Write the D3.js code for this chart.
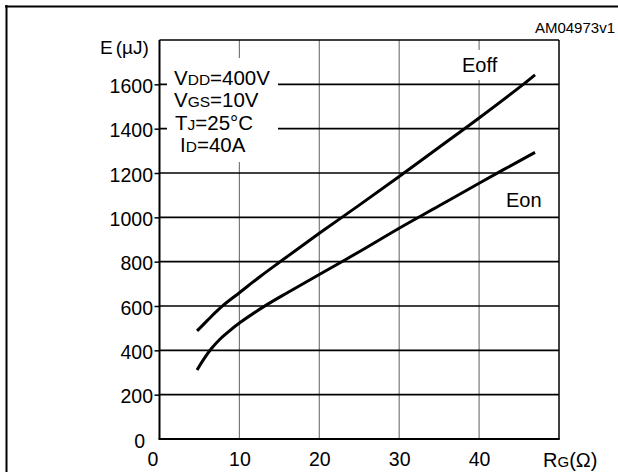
<!DOCTYPE html>
<html>
<head>
<meta charset="utf-8">
<script src="https://cdn.jsdelivr.net/npm/d3@7"></script>
<style>
  body { margin: 0; background: #fff; }
  text { font-family: "Liberation Sans", Arial, sans-serif; fill: #000; }
</style>
</head>
<body>
<div id="g1"></div>
<script>
// data
var rgTicks = [0, 10, 20, 30, 40];
var eTicks = [0, 200, 400, 600, 800, 1000, 1200, 1400, 1600];
var gridX = [10, 20, 30, 40];
var gridY = [200, 400, 600, 800, 1000, 1200, 1400, 1600];

var eoffRg = [4.7, 6, 7, 8, 10, 12.6, 15, 20, 25, 30, 35, 40, 45, 47];
var eoffE  = [488, 535, 571, 604, 660, 733, 797, 928, 1055, 1184, 1316, 1448, 1585, 1643];
var eonRg  = [4.7, 5.5, 6.5, 7.5, 8.5, 10, 13, 16, 20, 25, 30, 35, 40, 47];
var eonE   = [311, 358, 408, 448, 480, 523, 596, 660, 742, 845, 951, 1052, 1154, 1293];

var w = 618, h = 472;
var margin = {top: 40, left: 159.5, right: 59, bottom: 33};
var width = w - margin.left - margin.right,
    height = h - margin.top - margin.bottom;

var svg = d3.select("#g1").append("svg").attr("width", w).attr("height", h);

// outer frame (top and left only)
svg.append("line").attr("x1", 5).attr("y1", 6.5).attr("x2", w).attr("y2", 6.5)
   .style("stroke", "#000").style("stroke-width", 2);
svg.append("line").attr("x1", 6.5).attr("y1", 5).attr("x2", 6.5).attr("y2", h)
   .style("stroke", "#000").style("stroke-width", 2);

svg.append("text").attr("x", 615).attr("y", 33).attr("text-anchor", "end")
   .style("font-size", "15px").text("AM04973v1");

var g = svg.append("g").attr("transform", "translate(" + margin.left + "," + margin.top + ")");

var x = d3.scaleLinear().domain([0, 50]).range([0, width]);
var y = d3.scaleLinear().domain([0, 1800]).range([height, 0]);

// grid
g.selectAll(".vgrid").data(gridX).enter().append("line")
  .attr("x1", function(d){ return x(d); }).attr("x2", function(d){ return x(d); })
  .attr("y1", 0).attr("y2", height)
  .style("stroke", "#7a7a7a").style("stroke-width", 1.2);
g.selectAll(".hgrid").data(gridY).enter().append("line")
  .attr("x1", 0).attr("x2", width)
  .attr("y1", function(d){ return y(d); }).attr("y2", function(d){ return y(d); })
  .style("stroke", "#000").style("stroke-width", 1.7);

// white boxes behind the labels
svg.append("rect").attr("x", 167).attr("y", 58).attr("width", 111).attr("height", 104).style("fill", "#fff");
svg.append("rect").attr("x", 455).attr("y", 50).attr("width", 50).attr("height", 30).style("fill", "#fff");

// axes
var yAxis = d3.axisLeft(y).tickValues(eTicks).tickFormat(d3.format("d")).tickSize(5).tickSizeOuter(0);
var xAxis = d3.axisBottom(x).tickValues(rgTicks).tickFormat(d3.format("d")).tickSize(0).tickSizeOuter(0);

var ya = g.append("g").call(yAxis);
ya.select(".domain").remove();
ya.selectAll("text").style("font-size", "19.5px").attr("x", -6.5).attr("dy", "0.42em")
  .attr("dx", function(d){ return d === 0 ? -8 : 0; });
ya.selectAll("line").style("stroke-width", 1.5)
  .style("display", function(d){ return d === 0 ? "none" : null; });

var xa = g.append("g").attr("transform", "translate(0," + height + ")").call(xAxis);
xa.select(".domain").remove();
xa.selectAll("text").style("font-size", "19.5px").attr("y", 13.5)
  .attr("dx", function(d){ return d === 0 ? -7 : 0; });

// plot border
g.append("line").attr("x1", 0).attr("x2", width).attr("y1", 0).attr("y2", 0)
  .style("stroke", "#000").style("stroke-width", 1.5);
g.append("line").attr("x1", width).attr("x2", width).attr("y1", 0).attr("y2", height)
  .style("stroke", "#000").style("stroke-width", 1.5);
g.append("line").attr("x1", 0).attr("x2", 0).attr("y1", 0).attr("y2", height)
  .style("stroke", "#000").style("stroke-width", 2);
g.append("line").attr("x1", -1).attr("x2", width + 0.75).attr("y1", height).attr("y2", height)
  .style("stroke", "#000").style("stroke-width", 2.2);

// curves
var line = d3.line()
  .x(function(d){ return x(d[0]); })
  .y(function(d){ return y(d[1]); })
  .curve(d3.curveCatmullRom.alpha(0.5));

var series = [d3.zip(eoffRg, eoffE), d3.zip(eonRg, eonE)];
g.selectAll(".curve").data(series).enter().append("path")
  .attr("d", line)
  .style("fill", "none").style("stroke", "#000").style("stroke-width", 3);

// labels
svg.append("text").attr("x", 462).attr("y", 71.5).style("font-size", "20px").text("Eoff");
svg.append("text").attr("x", 506).attr("y", 206.5).style("font-size", "20px").text("Eon");

var yt = svg.append("text").attr("x", 100).attr("y", 53.5).style("font-size", "19px");
yt.append("tspan").text("E");
yt.append("tspan").attr("dx", 3).text("(µJ)");

var xt = svg.append("text").attr("x", 543).attr("y", 466.5).style("font-size", "20px");
xt.append("tspan").text("R");
xt.append("tspan").style("font-size", "15px").text("G");
xt.append("tspan").text("(Ω)");

var cond = [
  {x: 174, y: 85,    a: "V", b: "DD", c: "=400V"},
  {x: 174, y: 107,   a: "V", b: "GS", c: "=10V"},
  {x: 175, y: 130,   a: "T", b: "J",  c: "=25°C"},
  {x: 180, y: 152,   a: "I", b: "D",  c: "=40A"}
];
cond.forEach(function(d){
  var t = svg.append("text").attr("x", d.x).attr("y", d.y).style("font-size", "20.5px");
  t.append("tspan").text(d.a);
  t.append("tspan").style("font-size", "15.5px").text(d.b);
  t.append("tspan").text(d.c);
});
</script>
</body>
</html>
